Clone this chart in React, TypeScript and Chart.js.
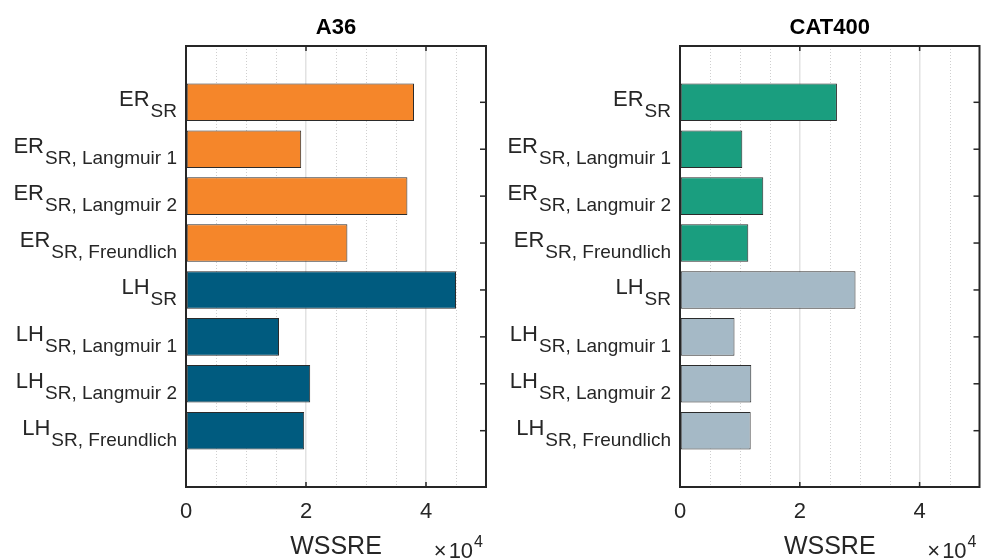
import React, { useEffect, useRef } from 'react';
import { Chart, registerables } from 'chart.js';

Chart.register(...registerables);

// ---- data ----
const labelMain = ['ER', 'ER', 'ER', 'ER', 'LH', 'LH', 'LH', 'LH'];
const labelSub = [
  'SR',
  'SR, Langmuir 1',
  'SR, Langmuir 2',
  'SR, Freundlich',
  'SR',
  'SR, Langmuir 1',
  'SR, Langmuir 2',
  'SR, Freundlich',
];
const positions = [0, 1, 2, 3, 4, 5, 6, 7];
const valuesA36 = [38000, 19200, 36900, 26900, 45000, 15500, 20700, 19700];
const valuesCAT400 = [26200, 10400, 13900, 11400, 29300, 9100, 11900, 11800];
const colorsA36 = ['#F5862A', '#F5862A', '#F5862A', '#F5862A', '#005B7F', '#005B7F', '#005B7F', '#005B7F'];
const colorsCAT400 = ['#1A9E7F', '#1A9E7F', '#1A9E7F', '#1A9E7F', '#A5B9C6', '#A5B9C6', '#A5B9C6', '#A5B9C6'];
const xTickValues = [0, 5000, 10000, 15000, 20000, 25000, 30000, 35000, 40000, 45000, 50000];
const xMajorTicks = [0, 20000, 40000];
const xInnerMajor = [20000, 40000];
const xMinorTicks = [5000, 10000, 15000, 25000, 30000, 35000, 45000];
const xMin = 0;
const xMax = 50000;
const yMin = -1.2;
const yMax = 8.2;
const xTitle = 'WSSRE';
const xExponent = '4';

const FONT = '"Liberation Sans", Arial, Helvetica, sans-serif';
const AX = '#262626';

function makeDecor(title: string) {
  return {
    id: 'decor',
    beforeDatasetsDraw(chart: any) {
      const { ctx, chartArea: a, scales } = chart;
      const x = scales.x;
      ctx.save();
      ctx.strokeStyle = '#cfcfcf';
      ctx.lineWidth = 1;
      ctx.setLineDash([1, 2]);
      for (const v of xMinorTicks) {
        const px = Math.round(x.getPixelForValue(v)) + 0.5;
        ctx.beginPath();
        ctx.moveTo(px, a.top);
        ctx.lineTo(px, a.bottom);
        ctx.stroke();
      }
      ctx.restore();
    },
    afterDraw(chart: any) {
      const { ctx, chartArea: a, scales } = chart;
      const x = scales.x;
      const y = scales.y;
      ctx.save();
      // box
      ctx.strokeStyle = AX;
      ctx.lineWidth = 2;
      ctx.setLineDash([]);
      ctx.strokeRect(a.left, a.top, a.right - a.left, a.bottom - a.top);
      // inner ticks
      ctx.lineWidth = 1.5;
      for (const v of xInnerMajor) {
        const px = x.getPixelForValue(v);
        ctx.beginPath();
        ctx.moveTo(px, a.top);
        ctx.lineTo(px, a.top + 5);
        ctx.moveTo(px, a.bottom);
        ctx.lineTo(px, a.bottom - 5);
        ctx.stroke();
      }
      for (const p of positions) {
        const py = y.getPixelForValue(p);
        ctx.beginPath();
        ctx.moveTo(a.right, py);
        ctx.lineTo(a.right - 6, py);
        ctx.stroke();
      }
      // y labels with subscripts
      ctx.fillStyle = AX;
      ctx.textAlign = 'right';
      ctx.textBaseline = 'alphabetic';
      const right = a.left - 9;
      positions.forEach((p, i) => {
        const yc = y.getPixelForValue(p);
        ctx.font = `19px ${FONT}`;
        const subW = ctx.measureText(labelSub[i]).width;
        ctx.fillText(labelSub[i], right, yc + 15);
        ctx.font = `22px ${FONT}`;
        ctx.fillText(labelMain[i], right - subW - 1, yc + 4);
      });
      // title
      const cx = (a.left + a.right) / 2;
      ctx.textAlign = 'center';
      ctx.fillStyle = '#000';
      ctx.font = `bold 22px ${FONT}`;
      ctx.fillText(title, cx, 34);
      // axis title
      ctx.fillStyle = AX;
      ctx.font = `25px ${FONT}`;
      ctx.fillText(xTitle, cx, 554);
      // exponent x10^4
      ctx.textAlign = 'right';
      let r = a.right - 3;
      ctx.font = `16px ${FONT}`;
      ctx.fillText(xExponent, r, 547);
      r -= ctx.measureText(xExponent).width + 1;
      ctx.font = `22px ${FONT}`;
      ctx.fillText('10', r, 558);
      r -= ctx.measureText('10').width + 2;
      ctx.fillText('\u00D7', r, 558);
      ctx.restore();
    },
  };
}

type PanelProps = {
  title: string;
  values: number[];
  colors: string[];
  width: number;
  left: number;
  plotLeft: number;
  padRight: number;
};

function Panel({ title, values, colors, width, left, plotLeft, padRight }: PanelProps) {
  const ref = useRef<HTMLCanvasElement | null>(null);
  useEffect(() => {
    if (!ref.current) return;
    const chart = new Chart(ref.current, {
      type: 'bar',
      data: {
        datasets: [
          {
            data: values.map((v, i) => ({ x: v, y: positions[i] })),
            backgroundColor: colors,
            borderColor: '#2b2b2b',
            borderWidth: 1,
            borderSkipped: false,
            inflateAmount: 0,
            barPercentage: 0.8,
            categoryPercentage: 1,
          } as any,
        ],
      },
      options: {
        indexAxis: 'y',
        responsive: false,
        animation: false,
        layout: { autoPadding: false, padding: { left: plotLeft, right: padRight, top: 46, bottom: 0 } },
        plugins: { legend: { display: false }, tooltip: { enabled: false }, title: { display: false } },
        scales: {
          y: {
            type: 'linear',
            display: false,
            offset: false,
            grid: { offset: false },
            min: yMin,
            max: yMax,
            reverse: true,
          },
          x: {
            type: 'linear',
            min: xMin,
            max: xMax,
            offset: false,
            border: { display: false },
            afterBuildTicks: (s: any) => {
              s.ticks = xTickValues.map((v) => ({ value: v }));
            },
            grid: {
              drawTicks: false,
              offset: false,
              lineWidth: 1.5,
              color: (ctx: any) =>
                ctx.tick && xInnerMajor.includes(ctx.tick.value) ? '#e2e2e2' : 'rgba(0,0,0,0)',
            },
            ticks: {
              autoSkip: false,
              maxRotation: 0,
              minRotation: 0,
              padding: 0,
              color: AX,
              font: { family: FONT, size: 22, lineHeight: '50px' },
              callback: (v: any) => (xMajorTicks.includes(Number(v)) ? String(Number(v) / 10000) : ''),
            },
            afterFit: (s: any) => {
              s.height = 73;
            },
          },
        },
      },
      plugins: [makeDecor(title)],
    } as any);
    return () => chart.destroy();
  }, []);
  return (
    <canvas
      ref={ref}
      width={width}
      height={560}
      style={{ position: 'absolute', left, top: 0, width, height: 560 }}
    />
  );
}

export default function App() {
  return (
    <div style={{ position: 'absolute', left: 0, top: 0, width: 981, height: 560, background: '#fff' }}>
      <Panel title="A36" values={valuesA36} colors={colorsA36} width={490} left={0} plotLeft={186} padRight={4} />
      <Panel title="CAT400" values={valuesCAT400} colors={colorsCAT400} width={491} left={490} plotLeft={190} padRight={1.5} />
    </div>
  );
}
